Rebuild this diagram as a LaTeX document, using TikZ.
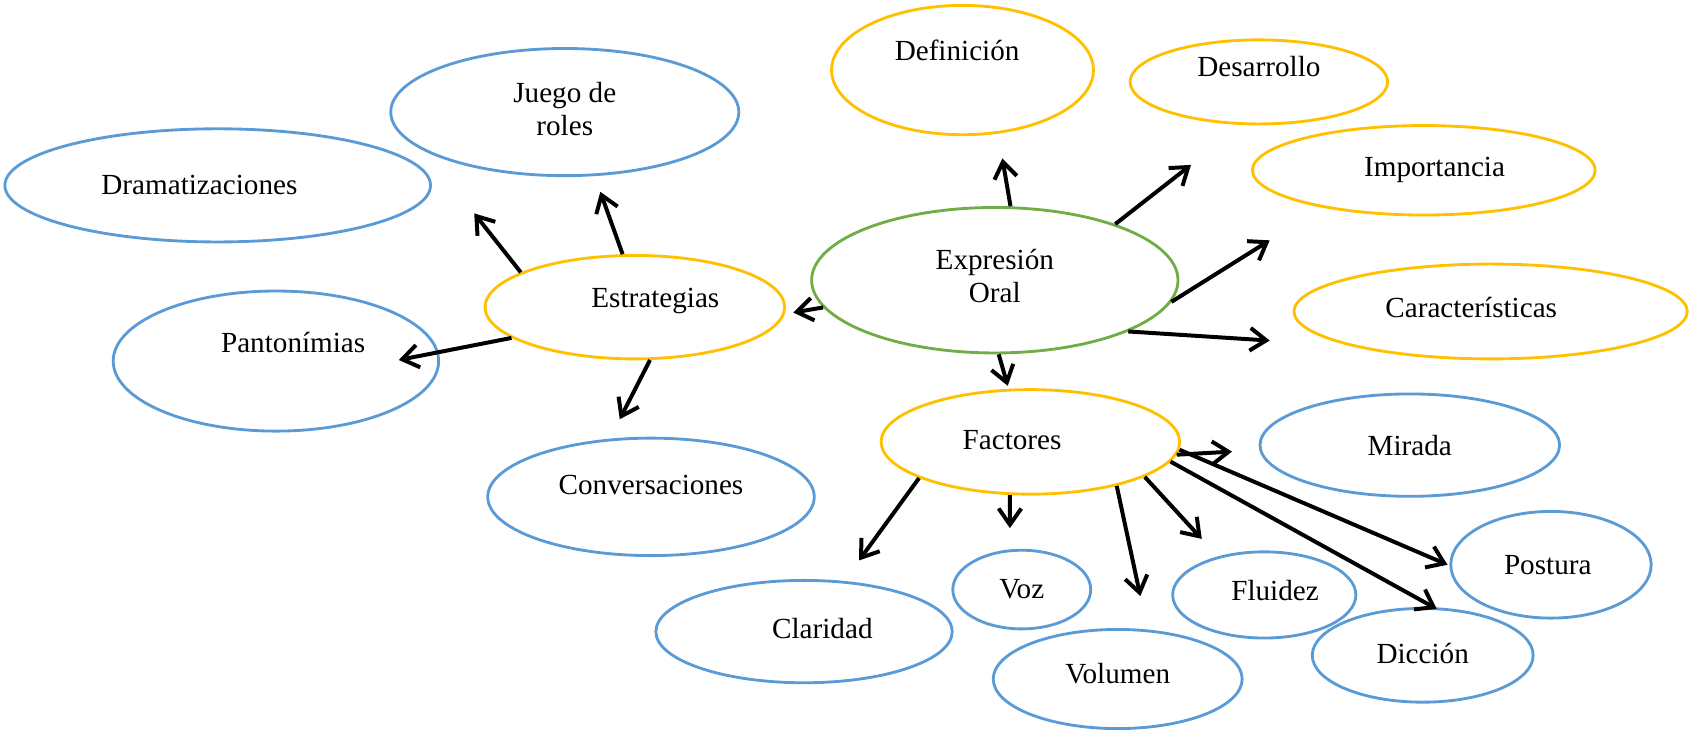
\documentclass[tikz,border=0pt]{standalone}
\usepackage{fontspec}
\setmainfont{Liberation Serif}
\usetikzlibrary{shapes.geometric,arrows.meta}
\definecolor{bluebub}{HTML}{5B9BD5}
\definecolor{goldbub}{HTML}{FFC000}
\definecolor{greenbub}{HTML}{70AD47}
\tikzset{bub/.style={ellipse,draw=#1,line width=1.5pt,inner sep=0pt},arrowout/.style={-{Straight Barb[length=3mm,width=4.2mm]},line width=2.1pt}}

\begin{document}
\begin{tikzpicture}[x=0.02cm,y=-0.02cm,align=center,font=\fontsize{15.4}{17.7}\selectfont]
\useasboundingbox (0,0) rectangle (1568,678);

%centre
\node (exp) at (923,260)[bub=greenbub,minimum width=6.8cm,minimum height=2.7cm,label={[yshift=0.08cm]center:Expresión\\Oral}]{};

%estrategias
\node (estr) at (589,285)[bub=goldbub,minimum width=5.56cm,minimum height=1.92cm,label={[xshift=0.38cm,yshift=0.12cm]center:Estrategias}]{};
\node (drama) at (202,172)[bub=bluebub,minimum width=7.9cm,minimum height=2.1cm,label={[xshift=-0.34cm]center:Dramatizaciones}]{};
\node (juego) at (524,104)[bub=bluebub,minimum width=6.46cm,minimum height=2.36cm,label={[yshift=0.06cm]center:Juego de\\roles}]{};
\node (panto) at (256,335)[bub=bluebub,minimum width=6.04cm,minimum height=2.6cm,label={[xshift=0.32cm,yshift=0.34cm]center:Pantonímias}]{};
\node (conv) at (604,461)[bub=bluebub,minimum width=6.06cm,minimum height=2.18cm,label={[yshift=0.22cm]center:Conversaciones}]{};

%expresion oral
\node (def) at (893,65)[bub=goldbub,minimum width=4.86cm,minimum height=2.4cm,label={[xshift=-0.1cm,yshift=0.36cm]center:Definición}]{};
\node (des) at (1168,76)[bub=goldbub,minimum width=4.78cm,minimum height=1.56cm,label={[yshift=0.28cm]center:Desarrollo}]{};
\node (imp) at (1321,158)[bub=goldbub,minimum width=6.36cm,minimum height=1.66cm,label={[xshift=0.2cm]center:Importancia}]{};
\node (car) at (1383,289)[bub=goldbub,minimum width=7.3cm,minimum height=1.76cm,label={[xshift=-0.36cm,yshift=0.08cm]center:Características}]{};

%factores
\node (fac) at (956,410)[bub=goldbub,minimum width=5.54cm,minimum height=1.94cm,label={[xshift=-0.34cm,yshift=0.04cm]center:Factores}]{};
\node (mir) at (1308,413)[bub=bluebub,minimum width=5.56cm,minimum height=1.9cm,label={center:Mirada}]{};
\node (pos) at (1439,524)[bub=bluebub,minimum width=3.72cm,minimum height=1.98cm,label={[xshift=-0.06cm]center:Postura}]{};
\node (dic) at (1320,608)[bub=bluebub,minimum width=4.1cm,minimum height=1.74cm,label={[yshift=0.04cm]center:Dicción}]{};
\node (flu) at (1173,552)[bub=bluebub,minimum width=3.4cm,minimum height=1.6cm,label={[xshift=0.2cm,yshift=0.08cm]center:Fluidez}]{};
\node (voz) at (948,547)[bub=bluebub,minimum width=2.56cm,minimum height=1.46cm,label={center:Voz}]{};
\node (vol) at (1037,630)[bub=bluebub,minimum width=4.62cm,minimum height=1.84cm,label={[yshift=0.1cm]center:Volumen}]{};
\node (cla) at (746,586)[bub=bluebub,minimum width=5.5cm,minimum height=1.9cm,label={[xshift=0.34cm,yshift=0.06cm]center:Claridad}]{};

%arrow tips
\coordinate (tJuego) at (557,178);
\coordinate (tDrama) at (440,198);
\coordinate (tPanto) at (370,334);
\coordinate (tConv) at (575,389);
\coordinate (tEstr) at (736,290);
\coordinate (tDef) at (930,147);
\coordinate (tDes) at (1105,153);
\coordinate (tImp) at (1178,223);
\coordinate (tCar) at (1178,316);
\coordinate (tFac) at (935,358);
\coordinate (tMir) at (1143,419);
\coordinate (tPos) at (1343,524);
\coordinate (tDic) at (1333,565);
\coordinate (tFlu) at (1115,500);
\coordinate (tVol) at (1058,553);
\coordinate (tVoz) at (937,490);
\coordinate (tCla) at (797,520);

\draw[arrowout] (estr.103) -- (tJuego);
\draw[arrowout] (estr.163) -- (tDrama);
\draw[arrowout] (estr.194.5) -- (tPanto);
\draw[arrowout] (estr.286) -- (tConv);

\draw[arrowout] (exp.189) -- (tEstr);
\draw[arrowout] (exp.78) -- (tDef);
\draw[arrowout] (exp.25.7) -- (tDes);
\draw[arrowout] (exp.353.4) -- (tImp);
\draw[arrowout] (exp.339.6) -- (tCar);
\draw[arrowout] (exp.273) -- (tFac);

\draw[arrowout] (fac.355) -- (tMir);
\draw[arrowout] (fac.357) -- (tPos);
\draw[arrowout] (fac.352.7) -- (tDic);
\draw[arrowout] (fac.343.5) -- (tFlu);
\draw[arrowout] (fac.333) -- (tVol);
\draw[arrowout] (fac.249) -- (tVoz);
\draw[arrowout] (fac.198.3) -- (tCla);

\end{tikzpicture}
\end{document}
